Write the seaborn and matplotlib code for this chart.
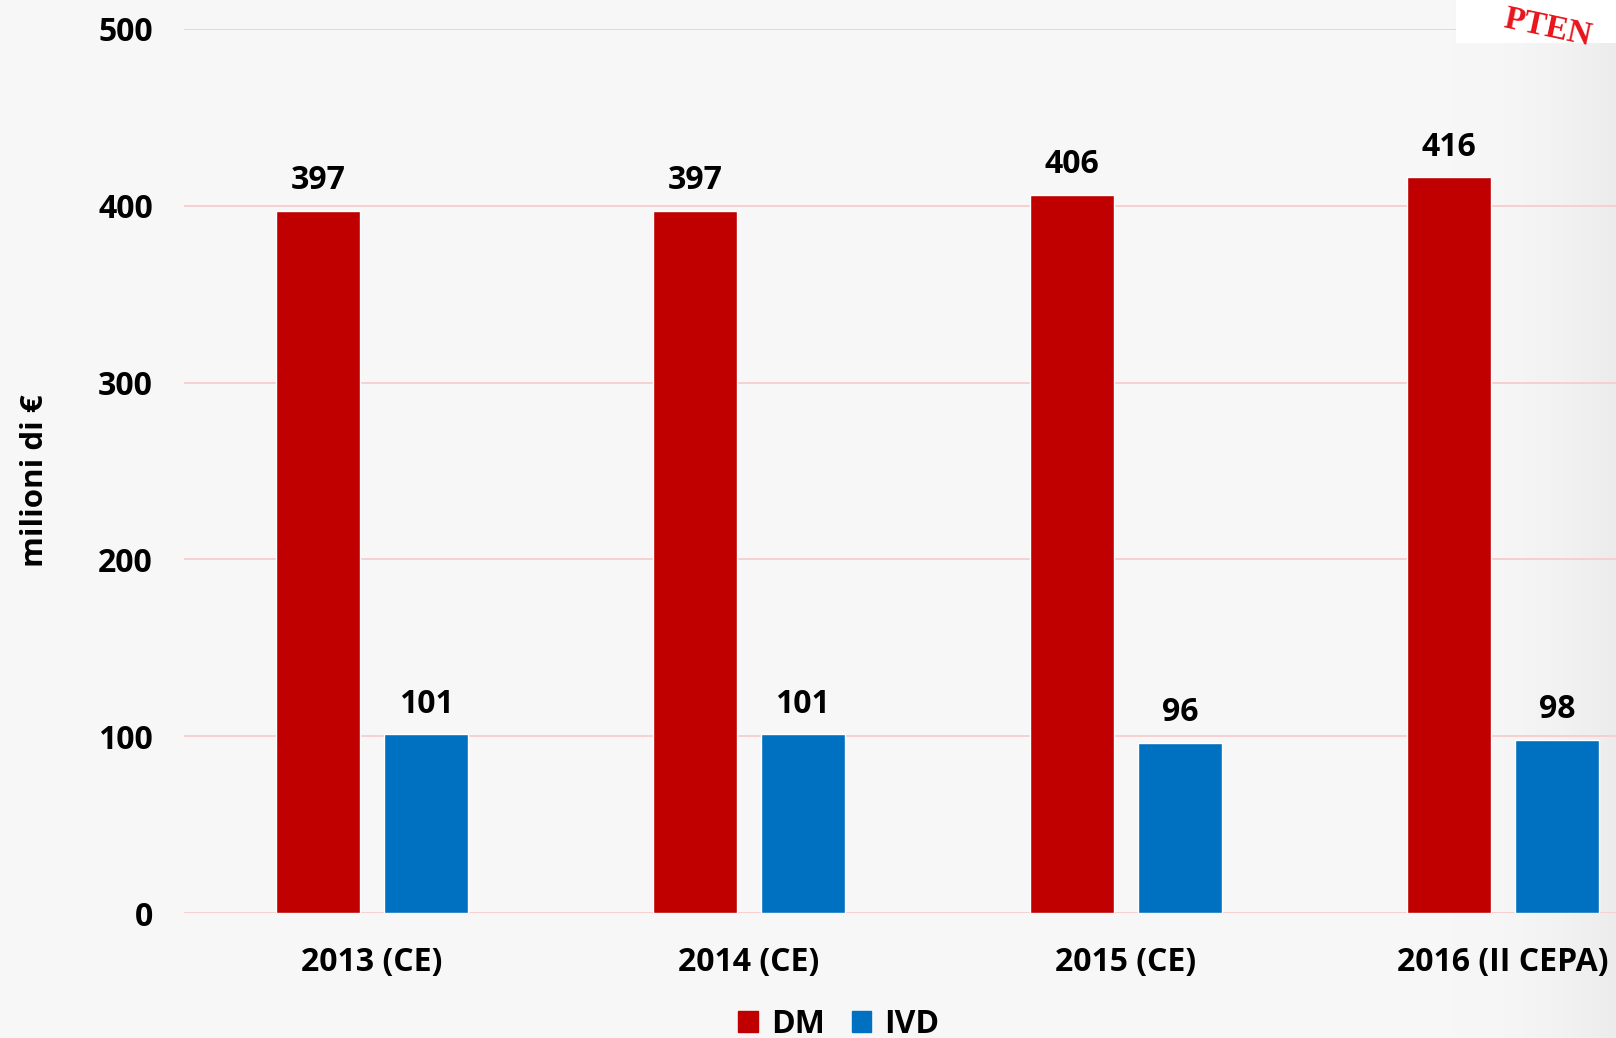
import numpy as np
import pandas as pd
import matplotlib
matplotlib.use("Agg")
import matplotlib.pyplot as plt
import seaborn as sns
from matplotlib.patches import Rectangle

categories = ["2013 (CE)", "2014 (CE)", "2015 (CE)", "2016 (II CEPA)"]
series_names = ["DM", "IVD"]
dm_values = [397, 397, 406, 416]
ivd_values = [101, 101, 96, 98]
y_ticks = [0, 100, 200, 300, 400, 500]
y_label = "milioni di €"

colors = {"DM": "#c00000", "IVD": "#0070c0"}
bg = "#f7f7f7"

df = pd.DataFrame({
    "cat": categories * 2,
    "serie": [series_names[0]] * 4 + [series_names[1]] * 4,
    "val": dm_values + ivd_values,
})

sns.set_theme(style="white")
plt.rcParams["font.family"] = ["Open Sans", "DejaVu Sans"]
plt.rcParams["font.weight"] = "bold"
plt.rcParams["text.color"] = "black"
plt.rcParams["xtick.color"] = "black"
plt.rcParams["ytick.color"] = "black"
plt.rcParams["axes.labelcolor"] = "black"

fig = plt.figure(figsize=(16.16, 10.38), dpi=100, facecolor=bg)

# subtle grey gradient on the right edge
gax = fig.add_axes([0, 0, 1, 1], zorder=-5)
grad = np.linspace(0, 1, 400)
grad = np.clip((grad - 0.9) / 0.1, 0, 1) ** 2
img = np.ones((10, 400, 3))
base = np.array([247, 247, 247]) / 255
edge = np.array([236, 236, 236]) / 255
for i in range(3):
    img[:, :, i] = base[i] + (edge[i] - base[i]) * grad
gax.imshow(img, aspect="auto", extent=[0, 1, 0, 1])
gax.set_axis_off()

ax = fig.add_axes([0.1136, 0.1204, 0.8864, 0.8518])
ax.patch.set_alpha(0)

sns.barplot(data=df, x="cat", y="val", hue="serie", order=categories,
            hue_order=series_names, palette=colors, width=0.572, gap=0.22,
            saturation=1, ax=ax, zorder=3, legend=True)

ax.set_ylim(0, 500)
ax.set_xlim(-0.5, 3.3)
ax.set_yticks(y_ticks)
for y in y_ticks:
    ax.axhline(y, color="#f6cdcd", lw=1.3, zorder=1)
for s in ax.spines.values():
    s.set_visible(False)
ax.tick_params(axis="y", length=0, pad=22, labelsize=23)
ax.tick_params(axis="x", length=0, pad=24, labelsize=23)
for lab in ax.get_yticklabels() + ax.get_xticklabels():
    lab.set_fontweight("bold")
ax.set_xlabel("")
ax.set_ylabel(y_label, fontsize=22.5, fontweight="bold")
ax.yaxis.set_label_coords(-0.093, 0.489)

for cont in ax.containers:
    labels = [f"{v:.0f}" for v in cont.datavalues]
    ax.bar_label(cont, labels=labels, padding=10, fontsize=23, fontweight="bold")

ax.legend_.remove()
handles = [Rectangle((0, 0), 1, 1, color=colors[n]) for n in series_names]
fig.legend(handles, series_names, loc="center", bbox_to_anchor=(0.519, 0.013),
           ncol=2, frameon=False, prop={"weight": "bold", "size": 23},
           handlelength=0.62, handleheight=0.62, handletextpad=0.4, columnspacing=0.85)

# cropped logo in top-right corner
fig.patches.append(Rectangle((1456 / 1616, 1 - 43 / 1038), 160 / 1616, 43 / 1038,
                             transform=fig.transFigure, facecolor="white",
                             edgecolor="none", zorder=5))
fig.text(0.958, 0.997, "PTEN", color="#e8141c", fontsize=24, fontweight="bold",
         ha="center", va="top", rotation=-12, zorder=6, family="Liberation Serif")

fig.savefig("out.png", dpi=100, facecolor=bg)
